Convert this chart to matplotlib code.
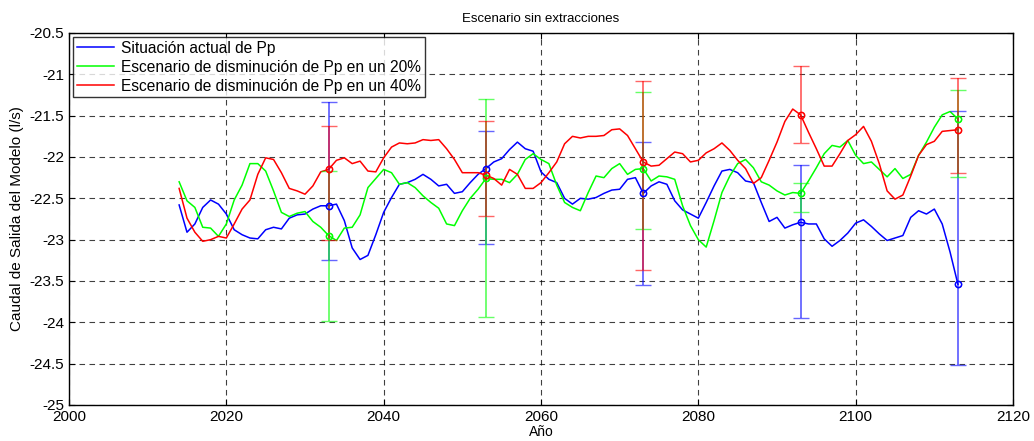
import matplotlib
matplotlib.use("Agg")
import matplotlib.pyplot as plt
import numpy as np

plt.rcParams['font.family'] = ['Liberation Sans', 'DejaVu Sans']

years = np.arange(2014, 2114)

actual = [
    -22.58, -22.91, -22.81, -22.61, -22.52, -22.57, -22.69, -22.88, -22.94, -22.98,
    -22.99, -22.88, -22.85, -22.87, -22.74, -22.70, -22.69, -22.63, -22.59, -22.59,
    -22.57, -22.77, -23.10, -23.24, -23.19, -22.94, -22.67, -22.49, -22.33, -22.31,
    -22.27, -22.21, -22.27, -22.35, -22.33, -22.44, -22.42, -22.31, -22.21, -22.14,
    -22.06, -22.02, -21.91, -21.82, -21.90, -21.93, -22.18, -22.27, -22.31, -22.50,
    -22.57, -22.50, -22.51, -22.49, -22.44, -22.40, -22.39, -22.27, -22.25, -22.44,
    -22.35, -22.30, -22.33, -22.53, -22.64, -22.69, -22.74, -22.55, -22.35, -22.17,
    -22.15, -22.19, -22.29, -22.31, -22.55, -22.78, -22.73, -22.86, -22.82, -22.79,
    -22.81, -22.81, -22.99, -23.08, -23.01, -22.92, -22.80, -22.76, -22.84, -22.93,
    -23.01, -22.98, -22.95, -22.73, -22.65, -22.69, -22.63, -22.81, -23.15, -23.54,
]

pp20 = [
    -22.30, -22.53, -22.61, -22.85, -22.86, -22.96, -22.81, -22.52, -22.34, -22.08,
    -22.08, -22.17, -22.41, -22.67, -22.72, -22.68, -22.66, -22.78, -22.85, -22.95,
    -23.01, -22.86, -22.85, -22.70, -22.37, -22.26, -22.15, -22.19, -22.33, -22.31,
    -22.37, -22.47, -22.55, -22.62, -22.81, -22.83, -22.65, -22.50, -22.39, -22.26,
    -22.27, -22.27, -22.31, -22.21, -22.03, -21.96, -22.03, -22.08, -22.34, -22.55,
    -22.61, -22.65, -22.43, -22.23, -22.25, -22.14, -22.08, -22.21, -22.15, -22.14,
    -22.29, -22.23, -22.24, -22.27, -22.59, -22.83, -23.00, -23.09, -22.77, -22.43,
    -22.23, -22.08, -22.03, -22.13, -22.30, -22.34, -22.41, -22.46, -22.43, -22.44,
    -22.29, -22.13, -21.96, -21.86, -21.88, -21.80, -21.98, -22.08, -22.06, -22.15,
    -22.24, -22.14, -22.26, -22.21, -21.98, -21.82, -21.64, -21.49, -21.45, -21.54,
]

pp40 = [
    -22.38, -22.74, -22.91, -23.02, -23.00, -22.96, -22.98, -22.81, -22.63, -22.52,
    -22.21, -22.01, -22.03, -22.19, -22.38, -22.41, -22.45, -22.35, -22.18, -22.15,
    -22.04, -22.01, -22.08, -22.05, -22.17, -22.18, -22.01, -21.88, -21.83, -21.84,
    -21.83, -21.79, -21.80, -21.79, -21.90, -22.03, -22.19, -22.19, -22.19, -22.22,
    -22.26, -22.34, -22.15, -22.21, -22.38, -22.38, -22.31, -22.19, -22.06, -21.84,
    -21.75, -21.77, -21.75, -21.75, -21.74, -21.67, -21.66, -21.74, -21.90, -22.06,
    -22.11, -22.10, -22.02, -21.94, -21.96, -22.06, -22.04, -21.95, -21.90, -21.83,
    -21.92, -22.04, -22.14, -22.32, -22.25, -22.04, -21.82, -21.57, -21.42, -21.49,
    -21.70, -21.90, -22.11, -22.11, -21.96, -21.80, -21.73, -21.63, -21.81, -22.08,
    -22.41, -22.51, -22.46, -22.23, -21.98, -21.85, -21.81, -21.69, -21.68, -21.67,
]

# years with uncertainty intervals
err_years = [2033, 2053, 2073, 2093, 2113]
actual_hi = [-21.34, -21.69, -21.82, -22.10, -21.44]
actual_lo = [-23.25, -23.05, -23.55, -23.95, -24.52]
pp20_hi = [-22.17, -21.30, -21.21, -22.32, -21.19]
pp20_lo = [-23.98, -23.94, -22.87, -22.67, -22.24]
pp40_hi = [-21.63, -21.57, -21.08, -20.90, -21.05]
pp40_lo = [-23.01, -22.71, -23.37, -21.83, -22.19]

labels = ['Situación actual de Pp',
          'Escenario de disminución de Pp en un 20%',
          'Escenario de disminución de Pp en un 40%']
colors = ['#0000ff', '#00ff00', '#ff0000']

fig = plt.figure(figsize=(10.34, 4.41), dpi=100)
ax = fig.add_axes([69 / 1034, 36 / 441, 944 / 1034, 372 / 441])

series = [(actual, actual_hi, actual_lo), (pp20, pp20_hi, pp20_lo), (pp40, pp40_hi, pp40_lo)]
for (vals, hi, lo), lab, c in zip(series, labels, colors):
    ax.plot(years, vals, color=c, lw=1.1, label=lab, zorder=3)
for (vals, hi, lo), c in zip(series, colors):
    vals = np.asarray(vals)
    centers = np.array([vals[y - years[0]] for y in err_years])
    yerr = [centers - np.array(lo), np.array(hi) - centers]
    ax.errorbar(err_years, centers, yerr=yerr, fmt='o', color=c, ecolor=c,
                mfc='none', mec=c, ms=4.5, mew=1.0, elinewidth=1.3,
                capsize=6, capthick=1.3, alpha=0.6, zorder=4)
    ax.plot(err_years, centers, 'o', mfc='none', mec=c, ms=4.5, mew=1.0, zorder=5)

ax.set_xlim(2000, 2120)
ax.set_ylim(-25, -20.5)
ax.set_xticks(np.arange(2000, 2121, 20))
ax.set_yticks(np.arange(-25, -20.49, 0.5))
ax.set_yticklabels(['-25', '-24.5', '-24', '-23.5', '-23', '-22.5', '-22',
                    '-21.5', '-21', '-20.5'])
ax.grid(True, color='k', linestyle=(0, (5, 4)), lw=0.8, alpha=0.75)
ax.tick_params(direction='in', top=True, right=True, length=4, labelsize=11)
for s in ax.spines.values():
    s.set_linewidth(1.0)

ax.set_title('Escenario sin extracciones', fontsize=9.5, pad=8)
ax.set_xlabel('Año', fontsize=10, labelpad=1)
ax.set_ylabel('Caudal de Salida del Modelo (l/s)', fontsize=11)

leg = ax.legend(loc='upper left', fontsize=11.2, frameon=True, fancybox=False,
                borderaxespad=0.25, handlelength=2.4, handletextpad=0.45,
                labelspacing=0.25, borderpad=0.25)
leg.get_frame().set_edgecolor('k')
leg.get_frame().set_linewidth(1.0)

fig.savefig('out.png', dpi=100)
